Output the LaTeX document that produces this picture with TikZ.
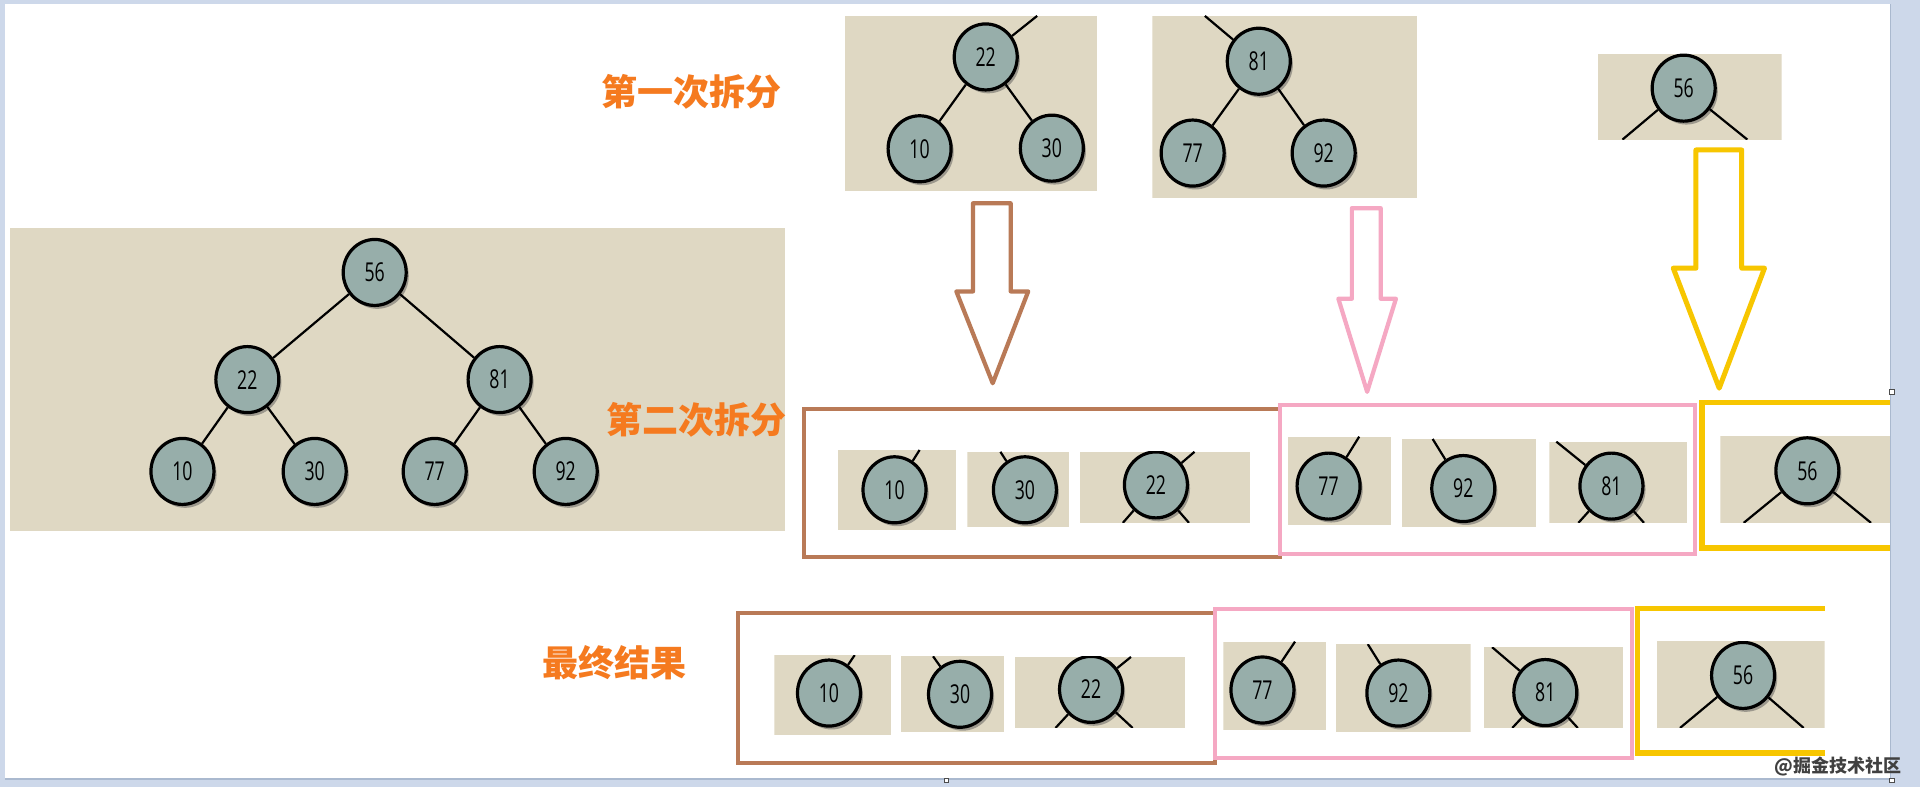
\documentclass[tikz,border=0pt]{standalone}
\usepackage{fontspec}
\usetikzlibrary{shapes.geometric,shadows}
\newfontfamily\numfont[FakeStretch=0.68]{Open Sans}
\newfontfamily\cjk{Noto Sans CJK SC}
\definecolor{framec}{RGB}{205,216,234}
\definecolor{frameedge}{RGB}{170,185,207}
\definecolor{beigec}{RGB}{223,216,195}
\definecolor{nodec}{RGB}{151,174,170}
\definecolor{brownc}{RGB}{185,122,87}
\definecolor{pinkc}{RGB}{245,168,195}
\definecolor{yellowc}{RGB}{247,198,0}
\definecolor{orangec}{RGB}{245,122,31}
\tikzset{
  hn/.style={ellipse, draw=black, line width=1.6pt, fill=nodec, inner sep=0pt,
    minimum width=31.5pt, minimum height=33pt,
    font=\numfont\fontsize{13}{13}\selectfont,
    drop shadow={shadow xshift=1.3pt, shadow yshift=-1.7pt, opacity=0.45, fill=black!70}},
  lnk/.style={draw=black, line width=1.1pt},
  tilebg/.style={fill=beigec},
  lab/.style={text=orangec, font=\cjk\bfseries\fontsize{18}{18}\selectfont, inner sep=0pt},
  brownbox/.style={draw=brownc, line width=2pt},
  pinkbox/.style={draw=pinkc, line width=2pt},
  yellowbox/.style={draw=yellowc, line width=2.6pt},
  brownarrow/.style={draw=brownc, line width=2.1pt, line join=round},
  pinkarrow/.style={draw=pinkc, line width=2.1pt, line join=round},
  yellowarrow/.style={draw=yellowc, line width=2.5pt, line join=round},
  handle/.style={fill=white, draw=black!70, line width=0.4pt}
}
\begin{document}
\begin{tikzpicture}[x=0.6122pt, y=-0.6122pt]
\useasboundingbox (0,0) rectangle (1568,643);
\fill[white] (0,0) rectangle (1568,643);

% ---------- big tree ----------
\fill[tilebg] (8,186) rectangle (641,434);
\node[hn] (t56) at (306,222.5) {56};
\node[hn] (t22) at (202,310) {22};
\node[hn] (t81) at (408,310) {81};
\node[hn] (t10) at (149,385) {10};
\node[hn] (t30) at (257,385) {30};
\node[hn] (t77) at (355,385) {77};
\node[hn] (t92) at (462,385) {92};
\draw[lnk] (t56) -- (t22);
\draw[lnk] (t56) -- (t81);
\draw[lnk] (t22) -- (t10);
\draw[lnk] (t22) -- (t30);
\draw[lnk] (t81) -- (t77);
\draw[lnk] (t81) -- (t92);

% ---------- first split tiles ----------
\begin{scope}
\clip (690,13) rectangle (896,156);
\fill[tilebg] (690,13) rectangle (896,156);
\node[hn] (a22) at (805,46.5) {22};
\node[hn] (a10) at (751,121.5) {10};
\node[hn] (a30) at (859,121) {30};
\coordinate (a22up) at (847,13);
\draw[lnk] (a22) -- (a10);
\draw[lnk] (a22) -- (a30);
\draw[lnk] (a22) -- (a22up);
\end{scope}

\begin{scope}
\clip (941,13) rectangle (1157,162);
\fill[tilebg] (941,13) rectangle (1157,162);
\node[hn] (a81) at (1028,50) {81};
\node[hn] (a77) at (974,125) {77};
\node[hn] (a92) at (1081,125) {92};
\coordinate (a81up) at (984,13);
\draw[lnk] (a81) -- (a77);
\draw[lnk] (a81) -- (a92);
\draw[lnk] (a81) -- (a81up);
\end{scope}

\begin{scope}
\clip (1305,44) rectangle (1455,114);
\fill[tilebg] (1305,44) rectangle (1455,114);
\node[hn] (a56) at (1375,72) {56};
\coordinate (a56l) at (1325,114);
\coordinate (a56r) at (1427,114);
\draw[lnk] (a56) -- (a56l);
\draw[lnk] (a56) -- (a56r);
\end{scope}

\node[lab] (lab1) at (565,75) {第一次拆分};

% ---------- arrows ----------
\draw[brownarrow] (794.6,166) -- (825.4,166) -- (825.4,238) -- (839.7,238) -- (810.7,313) -- (781,238) -- (794.6,238) -- cycle;
\draw[pinkarrow] (1104,170) -- (1127.6,170) -- (1127.6,244) -- (1140,244) -- (1116.5,320) -- (1093,244) -- (1104,244) -- cycle;
\draw[yellowarrow] (1385,122.5) -- (1422.4,122.5) -- (1422.4,219) -- (1441,219) -- (1404,317) -- (1366.5,219) -- (1385,219) -- cycle;

% ---------- second split ----------
\node[lab] (lab2) at (569,343) {第二次拆分};

\begin{scope}
\clip (684.5,367.5) rectangle (780.7,432.8);
\fill[tilebg] (684.5,367.5) rectangle (780.7,432.8);
\node[hn] (b10) at (730.5,400) {10};
\coordinate (b10up) at (751,367.5);
\draw[lnk] (b10) -- (b10up);
\end{scope}
\begin{scope}
\clip (790,369) rectangle (873,430);
\fill[tilebg] (790,369) rectangle (873,430);
\node[hn] (b30) at (837,400) {30};
\coordinate (b30up) at (817,369);
\draw[lnk] (b30) -- (b30up);
\end{scope}
\begin{scope}
\clip (882,369) rectangle (1021,427);
\fill[tilebg] (882,369) rectangle (1021,427);
\node[hn] (b22) at (944,396) {22};
\coordinate (b22up) at (975.5,369);
\coordinate (b22l) at (917,427);
\coordinate (b22r) at (971,427);
\draw[lnk] (b22) -- (b22up);
\draw[lnk] (b22) -- (b22l);
\draw[lnk] (b22) -- (b22r);
\end{scope}
\begin{scope}
\clip (1051.5,356.6) rectangle (1136,428.7);
\fill[tilebg] (1051.5,356.6) rectangle (1136,428.7);
\node[hn] (b77) at (1085,397) {77};
\coordinate (b77up) at (1110,356.6);
\draw[lnk] (b77) -- (b77up);
\end{scope}
\begin{scope}
\clip (1145,358.5) rectangle (1254.6,430);
\fill[tilebg] (1145,358.5) rectangle (1254.6,430);
\node[hn] (b92) at (1195,399) {92};
\coordinate (b92up) at (1170,358.5);
\draw[lnk] (b92) -- (b92up);
\end{scope}
\begin{scope}
\clip (1265.4,360.7) rectangle (1378,427);
\fill[tilebg] (1265.4,360.7) rectangle (1378,427);
\node[hn] (b81) at (1316,397) {81};
\coordinate (b81up) at (1271,360.7);
\coordinate (b81l) at (1289,427);
\coordinate (b81r) at (1342.6,427);
\draw[lnk] (b81) -- (b81up);
\draw[lnk] (b81) -- (b81l);
\draw[lnk] (b81) -- (b81r);
\end{scope}
\begin{scope}
\clip (1405,356) rectangle (1546,427);
\fill[tilebg] (1405,356) rectangle (1546,427);
\node[hn] (b56) at (1476,384.5) {56};
\coordinate (b56l) at (1424,427);
\coordinate (b56r) at (1528,427);
\draw[lnk] (b56) -- (b56l);
\draw[lnk] (b56) -- (b56r);
\end{scope}

\draw[brownbox] (656.6,334) rectangle (1045,454.6);
\draw[pinkbox] (1045,330.7) rectangle (1384,452.5);
\draw[yellowbox] (1390,329) rectangle (1562,447.6);

% ---------- final result ----------
\node[lab] (lab3) at (502,541) {最终结果};

\begin{scope}
\clip (632.5,535) rectangle (728,600);
\fill[tilebg] (632.5,535) rectangle (728,600);
\node[hn] (c10) at (677,566) {10};
\coordinate (c10up) at (698,535);
\draw[lnk] (c10) -- (c10up);
\end{scope}
\begin{scope}
\clip (736,536) rectangle (820,598);
\fill[tilebg] (736,536) rectangle (820,598);
\node[hn] (c30) at (784,567) {30};
\coordinate (c30up) at (762,536);
\draw[lnk] (c30) -- (c30up);
\end{scope}
\begin{scope}
\clip (828.5,536.5) rectangle (968,594.5);
\fill[tilebg] (828.5,536.5) rectangle (968,594.5);
\node[hn] (c22) at (891,563) {22};
\coordinate (c22up) at (923.6,536.5);
\coordinate (c22l) at (862,594.5);
\coordinate (c22r) at (925,594.5);
\draw[lnk] (c22) -- (c22up);
\draw[lnk] (c22) -- (c22l);
\draw[lnk] (c22) -- (c22r);
\end{scope}
\begin{scope}
\clip (999,524) rectangle (1083,596);
\fill[tilebg] (999,524) rectangle (1083,596);
\node[hn] (c77) at (1031,563.5) {77};
\coordinate (c77up) at (1057.6,524);
\draw[lnk] (c77) -- (c77up);
\end{scope}
\begin{scope}
\clip (1091,526) rectangle (1201,598);
\fill[tilebg] (1091,526) rectangle (1201,598);
\node[hn] (c92) at (1142,566) {92};
\coordinate (c92up) at (1117,526);
\draw[lnk] (c92) -- (c92up);
\end{scope}
\begin{scope}
\clip (1212,528.5) rectangle (1325.5,594.5);
\fill[tilebg] (1212,528.5) rectangle (1325.5,594.5);
\node[hn] (c81) at (1262,565.6) {81};
\coordinate (c81up) at (1218.5,528.5);
\coordinate (c81l) at (1235,594.5);
\coordinate (c81r) at (1288.5,594.5);
\draw[lnk] (c81) -- (c81up);
\draw[lnk] (c81) -- (c81l);
\draw[lnk] (c81) -- (c81r);
\end{scope}
\begin{scope}
\clip (1353,523.5) rectangle (1490,594.5);
\fill[tilebg] (1353,523.5) rectangle (1490,594.5);
\node[hn] (c56) at (1423.5,551.6) {56};
\coordinate (c56l) at (1372,594.5);
\coordinate (c56r) at (1473,594.5);
\draw[lnk] (c56) -- (c56l);
\draw[lnk] (c56) -- (c56r);
\end{scope}

\draw[brownbox] (603,501) rectangle (992.6,623);
\draw[pinkbox] (992.6,497.5) rectangle (1333,619);
\draw[yellowbox] (1490,497) -- (1337,497) -- (1337,615) -- (1490,615);

% ---------- window frame ----------
\fill[framec] (0,0) rectangle (1568,3.5);
\fill[framec] (0,0) rectangle (4,643);
\fill[framec] (1544,0) rectangle (1568,643);
\fill[framec] (0,636) rectangle (1568,643);
\draw[frameedge, line width=0.8pt] (4,636) -- (1544,636);
\draw[frameedge, line width=0.6pt] (1544,3.5) -- (1544,636);
\draw[handle] (1543.3,318.3) rectangle (1546.7,321.7);
\draw[handle] (771.3,635.3) rectangle (774.7,638.7);
\draw[handle] (1543.3,635.3) rectangle (1546.7,638.7);

\node[text=black!75, font=\cjk\bfseries\fontsize{9}{9}\selectfont, inner sep=0pt, anchor=east] (wm) at (1553,626) {@掘金技术社区};
\end{tikzpicture}
\end{document}
